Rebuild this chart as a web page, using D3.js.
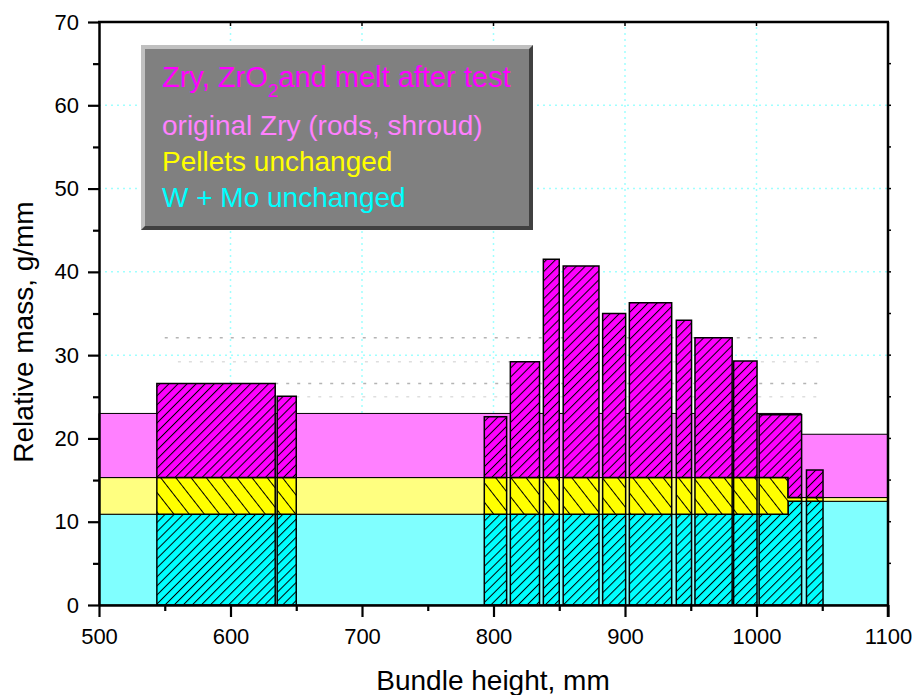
<!DOCTYPE html>
<html>
<head>
<meta charset="utf-8">
<script src="https://cdn.jsdelivr.net/npm/d3@7"></script>
<style>
  body { margin: 0; background: #fff; }
  svg { display: block; font-family: "Liberation Sans", Arial, sans-serif; }
</style>
</head>
<body>
<script>
// step breakpoints of the unchanged layers (start of each segment, mm)
const stepEdges = [500, 1024, 1034];
const wmoLevel = [10.9, 12.45, 12.45];
const pelletLevel = [15.3, 12.9, 12.9];
const zryLevel = [23.0, 23.0, 20.5];

// hatched bars: Zry, ZrO2 and melt after test
const barLeft  = [544, 635.5, 793, 812.8, 837.9, 853, 883, 903.3, 939, 953.2, 982.6, 1002, 1038];
const barRight = [634, 650, 810, 835, 850, 880.2, 900.5, 935.5, 950.6, 981.5, 1000.4, 1034.3, 1050.6];
const barTop   = [26.6, 25.05, 22.6, 29.2, 41.5, 40.7, 35.0, 36.3, 34.2, 32.1, 29.3, 22.85, 16.2];

// faint dotted leftovers behind the bars
const ghostLevels = [32.1, 29.2, 26.6, 25.0];
const ghostFrom   = [550, 560, 634, 650];
const ghostTo     = [1050, 1050, 1050, 1050];

const xTicks = [500, 600, 700, 800, 900, 1000, 1100];
const xMinor = [550, 650, 750, 850, 950, 1050];
const yTicks = [0, 10, 20, 30, 40, 50, 60, 70];
const yMinor = [5, 15, 25, 35, 45, 55, 65];

const legendLines = [
  { text: "original Zry (rods, shroud)", color: "#ff80ff" },
  { text: "Pellets unchanged", color: "#ffff00" },
  { text: "W + Mo unchanged", color: "#00ffff" }
];

const width = 917, height = 695;
const margin = { left: 99, right: 29, top: 22, bottom: 90 };

const svg = d3.select("body").append("svg")
  .attr("width", width)
  .attr("height", height);

const x = d3.scaleLinear().domain([500, 1100]).range([margin.left, width - margin.right]);
const y = d3.scaleLinear().domain([0, 70]).range([height - margin.bottom, margin.top]);

// patterns
const defs = svg.append("defs");
function hatch(id, fill, angle, w) {
  const p = defs.append("pattern")
    .attr("id", id)
    .attr("patternUnits", "userSpaceOnUse")
    .attr("width", w)
    .attr("height", w)
    .attr("patternTransform", `rotate(${angle})`);
  p.append("rect").attr("width", w).attr("height", w).attr("fill", fill);
  p.append("line")
    .attr("x1", 0.5).attr("y1", 0).attr("x2", 0.5).attr("y2", w)
    .attr("stroke", "#000").attr("stroke-width", 1);
}
hatch("hMag", "#ff00ff", 45, 6.4);
hatch("hCyan", "#00ffff", 45, 6.4);
hatch("hYel", "#ffff00", -38, 12);

// grid
const grid = svg.append("g");
grid.selectAll("line.gx")
  .data(xTicks.slice(1, -1))
  .join("line")
  .attr("x1", d => x(d)).attr("x2", d => x(d))
  .attr("y1", y(0)).attr("y2", y(70))
  .attr("stroke", "#9fffff").attr("stroke-width", 1.5)
  .attr("stroke-dasharray", "2,4");
grid.selectAll("line.gy")
  .data(yTicks.slice(1, -1))
  .join("line")
  .attr("x1", x(500)).attr("x2", x(1100))
  .attr("y1", d => y(d)).attr("y2", d => y(d))
  .attr("stroke", "#9fffff").attr("stroke-width", 1.5)
  .attr("stroke-dasharray", "2,4");

svg.append("g").selectAll("line")
  .data(ghostLevels)
  .join("line")
  .attr("x1", (d, i) => x(ghostFrom[i]))
  .attr("x2", (d, i) => x(ghostTo[i]))
  .attr("y1", d => y(d)).attr("y2", d => y(d))
  .attr("stroke", (d, i) => i === 0 || i === 2 ? "#b4b4b4" : "#dedede")
  .attr("stroke-width", 1.5)
  .attr("stroke-dasharray", "3,8");

function levelAt(arr, xv) {
  let k = 0;
  stepEdges.forEach((e, i) => { if (xv >= e) k = i; });
  return arr[k];
}

function stepPoints(x0, x1, lower, upper) {
  const xs = [x0, ...stepEdges.filter(e => e > x0 && e < x1), x1];
  return xs.map((xv, i) => {
    const ref = i === xs.length - 1 ? xs[i - 1] : xv;
    return { x: xv, lo: lower(ref), hi: upper(ref) };
  });
}

const area = d3.area()
  .x(d => x(d.x))
  .y0(d => y(d.lo))
  .y1(d => y(d.hi))
  .curve(d3.curveStepAfter);

const zero = () => 0;
const wmo = xv => levelAt(wmoLevel, xv);
const pel = xv => levelAt(pelletLevel, xv);
const zry = xv => levelAt(zryLevel, xv);

// unchanged layers (background)
const bg = svg.append("g").attr("stroke", "#000").attr("stroke-width", 1);
bg.append("path").attr("d", area(stepPoints(500, 1100, zero, wmo))).attr("fill", "#80ffff");
bg.append("path").attr("d", area(stepPoints(500, 1100, wmo, pel))).attr("fill", "#ffff80");
bg.append("path").attr("d", area(stepPoints(500, 1100, pel, zry))).attr("fill", "#ff80ff");

// hatched bars
const bars = svg.append("g").attr("stroke", "#000").attr("stroke-width", 1.5);
barTop.forEach((top, i) => {
  const x0 = barLeft[i], x1 = barRight[i];
  bars.append("path").attr("d", area(stepPoints(x0, x1, zero, wmo))).attr("fill", "url(#hCyan)");
  bars.append("path").attr("d", area(stepPoints(x0, x1, wmo, pel))).attr("fill", "url(#hYel)");
  bars.append("path").attr("d", area(stepPoints(x0, x1, pel, () => top))).attr("fill", "url(#hMag)");
});

// axes
const xAxis = svg.append("g")
  .attr("transform", `translate(0,${y(0)})`)
  .call(d3.axisBottom(x).tickValues(xTicks).tickSize(12).tickSizeOuter(0).tickFormat(d3.format("d")));
svg.append("g")
  .attr("transform", `translate(0,${y(0)})`)
  .call(d3.axisBottom(x).tickValues(xMinor).tickSize(6).tickFormat(""))
  .call(g => g.select(".domain").remove());
xAxis.selectAll("text").attr("y", 39).attr("dy", 0);

const yAxis = svg.append("g")
  .attr("transform", `translate(${x(500)},0)`)
  .call(d3.axisLeft(y).tickValues(yTicks).tickSize(11).tickPadding(9).tickSizeOuter(0).tickFormat(d3.format("d")));
svg.append("g")
  .attr("transform", `translate(${x(500)},0)`)
  .call(d3.axisLeft(y).tickValues(yMinor).tickSize(6).tickFormat(""))
  .call(g => g.select(".domain").remove());

svg.selectAll(".tick line").attr("stroke-width", 2.2);
svg.selectAll(".domain").attr("stroke-width", 2.5);
svg.selectAll(".tick text")
  .attr("fill", "#000")
  .style("font-size", "22px")
  .style("font-family", "'Liberation Sans', Arial, sans-serif");

// top and right frame
svg.append("line")
  .attr("x1", x(500) - 1).attr("x2", x(1100) + 1)
  .attr("y1", y(70)).attr("y2", y(70))
  .attr("stroke", "#000").attr("stroke-width", 2.5);
svg.append("line")
  .attr("x1", x(1100)).attr("x2", x(1100))
  .attr("y1", y(70)).attr("y2", y(0) + 12)
  .attr("stroke", "#000").attr("stroke-width", 2.5);
svg.append("g").selectAll("line")
  .data(xTicks.slice(1, -1))
  .join("line")
  .attr("x1", d => x(d)).attr("x2", d => x(d))
  .attr("y1", y(70)).attr("y2", y(70) + 4)
  .attr("stroke", "#000").attr("stroke-width", 1.5);
svg.append("g").selectAll("line")
  .data(yTicks.slice(1, -1).concat(yMinor))
  .join("line")
  .attr("x1", x(1100)).attr("x2", x(1100) + 3)
  .attr("y1", d => y(d)).attr("y2", d => y(d))
  .attr("stroke", "#000").attr("stroke-width", 1.5);

// axis titles
svg.append("text")
  .attr("x", 493).attr("y", 690)
  .attr("text-anchor", "middle")
  .style("font-size", "28px")
  .text("Bundle height, mm");
svg.append("text")
  .attr("transform", "translate(33,332) rotate(-90)")
  .attr("text-anchor", "middle")
  .style("font-size", "28px")
  .text("Relative mass, g/mm");

// legend box
const lg = svg.append("g");
const bx = 141, by = 45, bw = 392, bh = 185, bev = 4;
lg.append("rect").attr("x", bx).attr("y", by).attr("width", bw).attr("height", bh).attr("fill", "#404040");
lg.append("polygon")
  .attr("points", `${bx},${by} ${bx + bw},${by} ${bx + bw - bev},${by + bev} ${bx + bev},${by + bev} ${bx + bev},${by + bh - bev} ${bx},${by + bh}`)
  .attr("fill", "#c0c0c0");
lg.append("rect")
  .attr("x", bx + bev).attr("y", by + bev)
  .attr("width", bw - 2 * bev).attr("height", bh - 2 * bev)
  .attr("fill", "#808080");

const first = lg.append("text")
  .attr("x", 162).attr("y", 87)
  .attr("fill", "#ff00ff")
  .style("font-size", "29px");
first.append("tspan").text("Zry, ZrO");
first.append("tspan").attr("dy", 10).style("font-size", "19px").text("2");
first.append("tspan").attr("dy", -10).text("and melt after test");

lg.selectAll("text.item")
  .data(legendLines)
  .join("text")
  .attr("class", "item")
  .attr("x", 162)
  .attr("y", (d, i) => 135 + i * 36)
  .attr("fill", d => d.color)
  .style("font-size", "28px")
  .text(d => d.text);
</script>
</body>
</html>
